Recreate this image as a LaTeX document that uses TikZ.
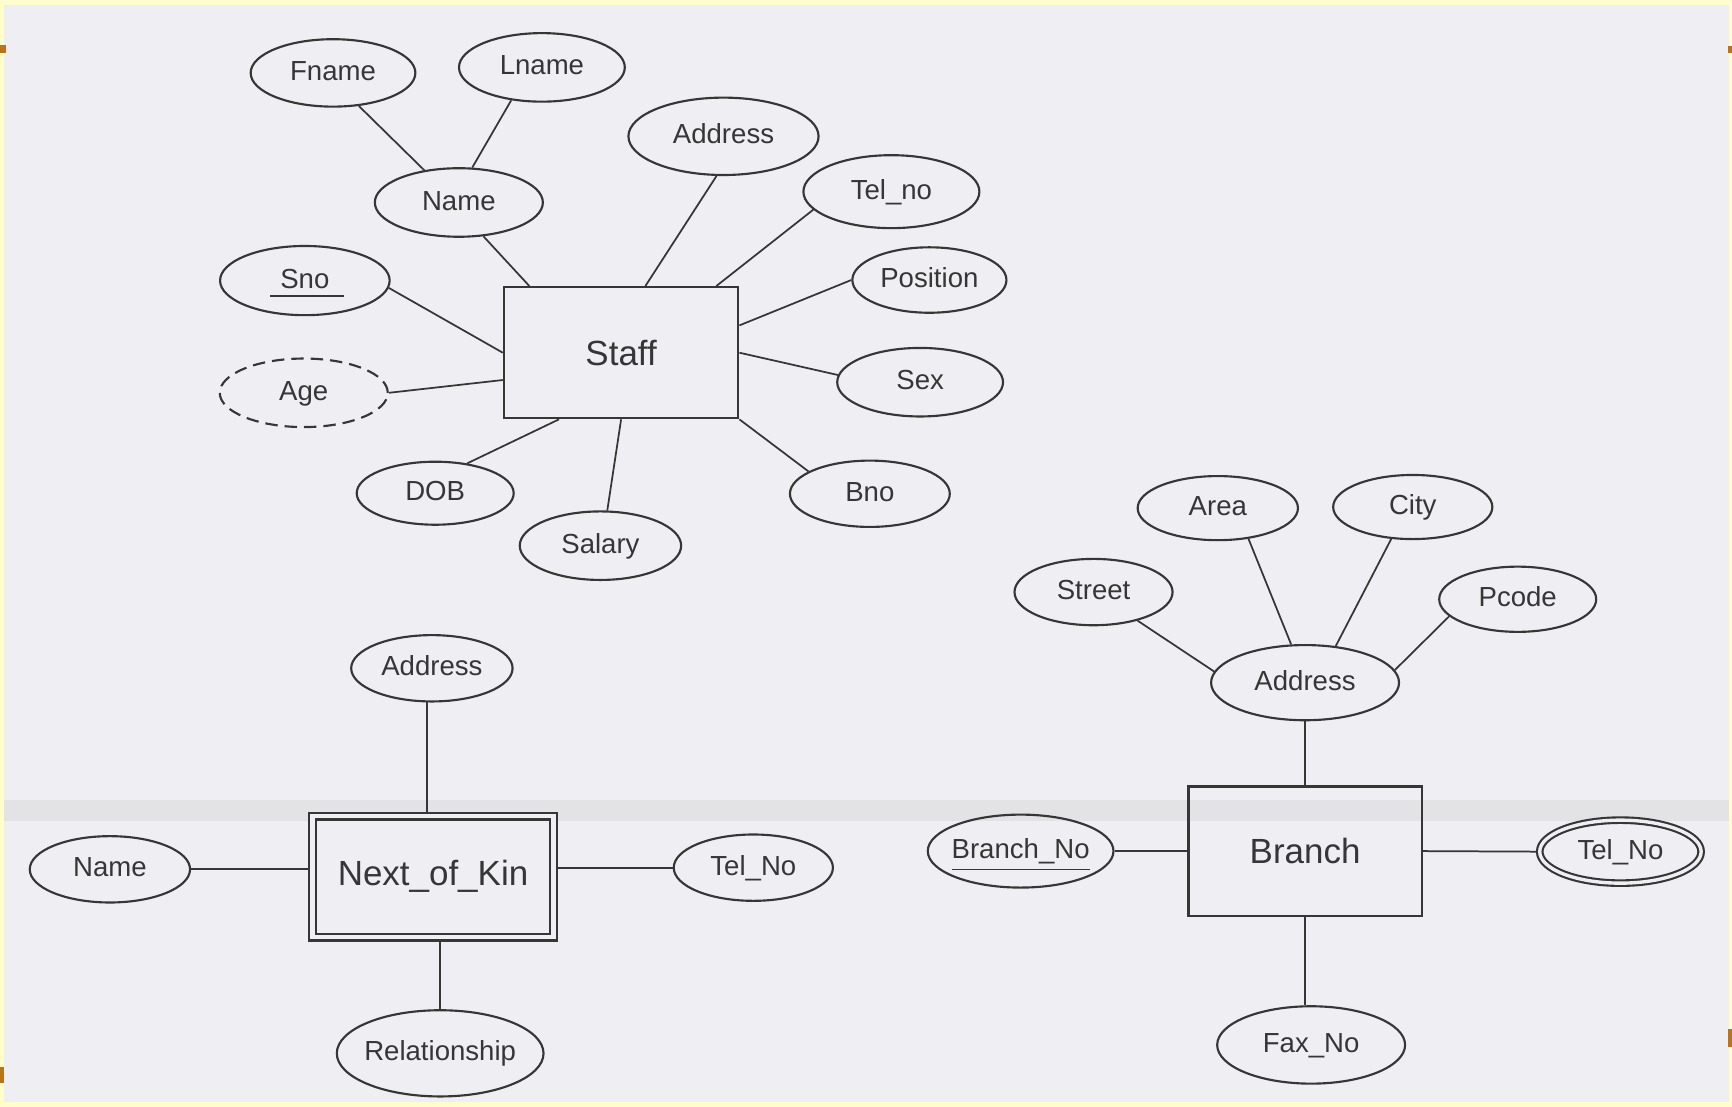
\documentclass[tikz,border=0pt]{standalone}
\usepackage{fontspec}
\setmainfont{Liberation Sans}
\usetikzlibrary{shapes.geometric,calc}
\definecolor{paper}{HTML}{EFEFF3}
\definecolor{rim}{HTML}{FFFDCC}
\definecolor{band}{HTML}{E3E3E6}
\definecolor{ink}{HTML}{363636}
\definecolor{tab}{HTML}{B8741A}
% zero-width box so that the ellipse size comes only from its minimum sizes
\newcommand\zw[1]{\makebox[0pt][c]{#1}}

\begin{document}
\begin{tikzpicture}[x=0.01cm,y=-0.01cm,
  ax/.style 2 args={minimum width=#1*0.02cm,minimum height=#2*0.02cm},
  attr/.style={ellipse,draw=ink,line width=0.55pt,inner sep=0pt,text=ink,
    text height=0.72em,text depth=0.33em,font=\fontsize{7.1}{8.5}\selectfont},
  ent/.style={rectangle,draw=ink,line width=0.6pt,inner sep=0pt,text=ink,
    font=\fontsize{9}{11}\selectfont},
  derived/.style={dash pattern=on 3.2pt off 1.8pt},
  link/.style={draw=ink,line width=0.45pt},
]
\useasboundingbox (0,0) rectangle (1568,1002);

% page
\fill[rim] (0,0) rectangle (1568,1002);
\fill[paper] (4,4.5) rectangle (1565,998);
\fill[band] (4,724) rectangle (1565,743);
\fill[tab] (0,41) rectangle (5,48);
\fill[tab] (1564,42) rectangle (1568,48);
\fill[tab] (0,966) rectangle (4,980);
\fill[tab] (1564,932) rectangle (1568,948);

% ---- Staff ----
\node[ent,minimum width=2.12cm,minimum height=1.185cm] (staff) at (562.3,319.3) {Staff};
\node[attr,ax={74.5}{30.5}] (fname) at (301.5,66) {\zw{Fname}};
\node[attr,ax={75}{31}] (lname) at (490.6,61) {\zw{Lname}};
\node[attr,ax={76}{31}] (name) at (415.4,183.3) {\zw{Name}};
\node[attr,ax={86}{35}] (saddr) at (655,123.4) {\zw{Address}};
\node[attr,ax={79.6}{33}] (stel) at (807,173.5) {\zw{Tel\_no}};
\node[attr,ax={69.7}{29.6}] (pos) at (841.4,253.5) {\zw{Position}};
\node[attr,ax={76.7}{31.3}] (sno) at (276,254) {\zw{Sno}};
\node[attr,derived,ax={76}{31}] (age) at (275,355.6) {\zw{Age}};
\node[attr,ax={75}{31}] (sex) at (833,346) {\zw{Sex}};
\node[attr,ax={71}{28.5}] (dob) at (394,446.5) {\zw{DOB}};
\node[attr,ax={73}{31}] (salary) at (543.6,494) {\zw{Salary}};
\node[attr,ax={72.3}{30}] (bno) at (787.5,447) {\zw{Bno}};
% key underline
\draw[ink,line width=0.5pt] ($(sno.center)+(-31.7,14)$) -- ++(66.7,0);

\draw[link] (fname.308) -- (name.137);
\draw[link] (lname.227) -- (name.69);
\draw[link] (name.306) -- (staff.144);
\draw[link] (saddr.260) -- (staff.70);
\draw[link] (stel.193) -- (staff.35);
\draw[link] (pos.180) -- (staff.13);
\draw[link] (sno.355) -- (staff.180);
\draw[link] (age.0) -- (staff.193);
\draw[link] (sex.175) -- (staff.0);
\draw[link] (dob.43) -- (staff.227);
\draw[link] (salary.79) -- (staff.south);
\draw[link] (bno.160) -- (staff.south east);

% ---- Branch ----
\node[ent,minimum width=2.11cm,minimum height=1.17cm] (branch) at (1181.5,770.5) {Branch};
\node[attr,ax={85}{34}] (baddr) at (1181.5,618) {\zw{Address}};
\node[attr,ax={72.5}{29}] (area) at (1102.5,460) {\zw{Area}};
\node[attr,ax={72}{29}] (city) at (1279,459) {\zw{City}};
\node[attr,ax={71.5}{30}] (street) at (990,536) {\zw{Street}};
\node[attr,ax={71}{29.5}] (pcode) at (1374,542.5) {\zw{Pcode}};
\node[attr,ax={84}{33}] (brno) at (924,770.5) {\zw{\underline{Branch\_No}}};
\node[attr,ax={73}{28.5},double=paper,double distance=0.87pt,outer sep=1pt] (btel) at (1467,771) {\zw{Tel\_No}};
\node[attr,ax={85}{35}] (fax) at (1187,946) {\zw{Fax\_No}};

\draw[link] (street.327) -- (baddr.173);
\draw[link] (area.315) -- (baddr.110);
\draw[link] (city.236) -- (baddr.50);
\draw[link] (pcode.194) -- (baddr.8);
\draw[link] (baddr.south) -- (branch.north);
\draw[link] (brno.east) -- (branch.west);
\draw[link] (branch.east) -- (btel.west);
\draw[link] (branch.south) -- (fax.north -| branch.south);

% ---- Next_of_Kin (weak entity) ----
\node[ent,double=paper,double distance=1.1pt,outer sep=1.15pt,
      minimum width=2.18cm,minimum height=1.094cm] (nok) at (392,793.7) {Next\_of\_Kin};
\node[attr,ax={72.5}{30}] (nname) at (99.5,787) {\zw{Name}};
\node[attr,ax={73}{30}] (naddr) at (391,605) {\zw{Address}};
\node[attr,ax={72}{30}] (ntel) at (682,785.5) {\zw{Tel\_No}};
\node[attr,ax={93.5}{39}] (rel) at (398.5,953.6) {\zw{Relationship}};

\draw[link] (naddr.262) -- (naddr.262 |- nok.north);
\draw[link] (nname.east) -- (nname.east -| nok.west);
\draw[link] (nok.east |- ntel.west) -- (ntel.west);
\draw[link] (rel.north) -- (rel.north |- nok.south);
\end{tikzpicture}
\end{document}
